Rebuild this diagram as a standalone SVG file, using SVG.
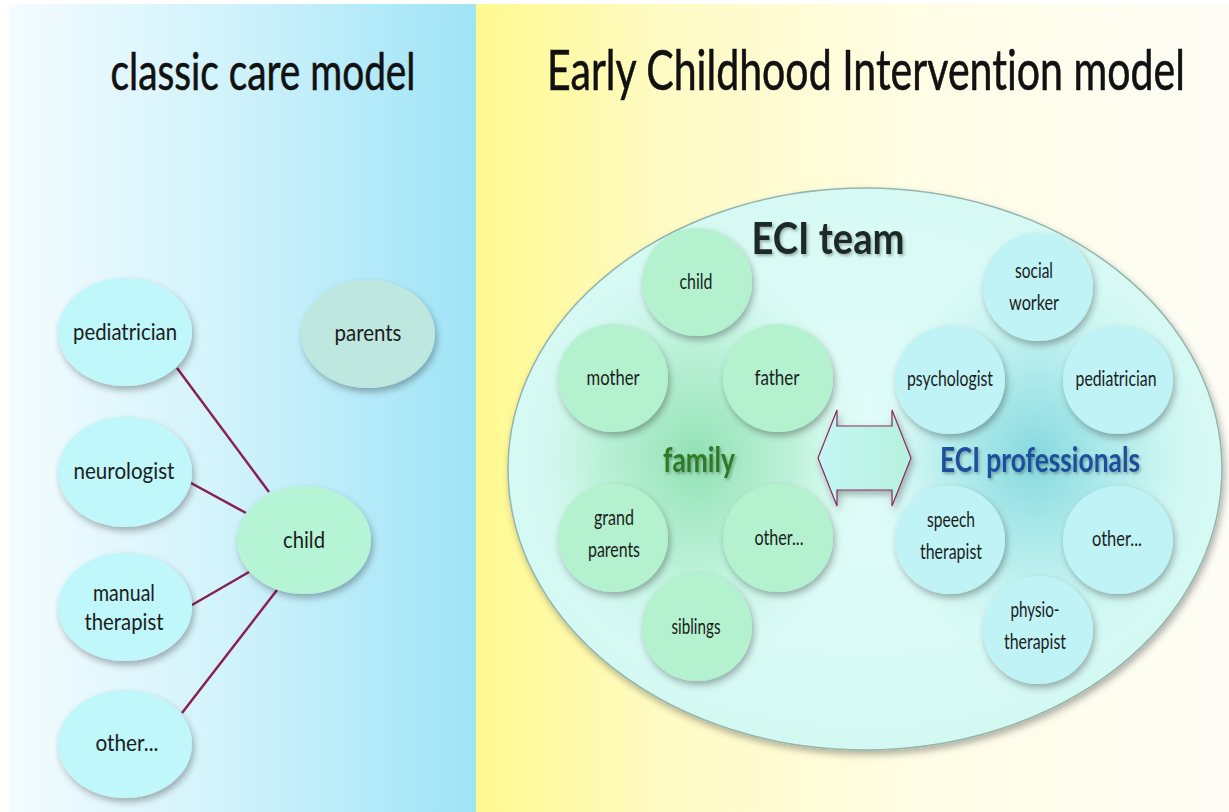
<svg xmlns="http://www.w3.org/2000/svg" width="1229" height="812" viewBox="0 0 1229 812">
<defs>
<linearGradient id="bgL" x1="0" y1="0" x2="1" y2="0">
<stop offset="0" stop-color="#f4fcff"/>
<stop offset="0.45" stop-color="#d2f3fb"/>
<stop offset="1" stop-color="#9fe4f7"/>
</linearGradient>
<linearGradient id="bgR" x1="0" y1="0" x2="1" y2="0">
<stop offset="0" stop-color="#fff98f"/>
<stop offset="0.25" stop-color="#fffbc4"/>
<stop offset="0.6" stop-color="#fffde6"/>
<stop offset="1" stop-color="#fdfdf6"/>
</linearGradient>
<radialGradient id="team" cx="0.5" cy="0.45" r="0.6">
<stop offset="0" stop-color="#e4fdf9"/>
<stop offset="1" stop-color="#d2f8f2"/>
</radialGradient>
<radialGradient id="glowG" cx="0.5" cy="0.5" r="0.5">
<stop offset="0" stop-color="#8edfb0" stop-opacity="0.95"/>
<stop offset="0.55" stop-color="#a4eac4" stop-opacity="0.6"/>
<stop offset="1" stop-color="#c8f6e6" stop-opacity="0"/>
</radialGradient>
<radialGradient id="glowB" cx="0.5" cy="0.5" r="0.5">
<stop offset="0" stop-color="#80d6dc" stop-opacity="0.95"/>
<stop offset="0.55" stop-color="#a2e6e8" stop-opacity="0.6"/>
<stop offset="1" stop-color="#c8f6f2" stop-opacity="0"/>
</radialGradient>
<linearGradient id="arrowFill" x1="0" y1="0" x2="1" y2="0">
<stop offset="0" stop-color="#c4f6f6"/>
<stop offset="1" stop-color="#b6f2dc"/>
</linearGradient>
<filter id="sh" x="-30%" y="-30%" width="160%" height="160%">
<feDropShadow dx="2" dy="4" stdDeviation="3.5" flood-color="#000" flood-opacity="0.3"/>
</filter>
<filter id="tsh" x="-10%" y="-30%" width="120%" height="160%">
<feDropShadow dx="1.5" dy="2" stdDeviation="1.5" flood-color="#000" flood-opacity="0.3"/>
</filter>
</defs>
<style>
text{font-variant-ligatures:none;font-feature-settings:"liga" 0,"clig" 0}
.title{font-family:"Lato","Liberation Sans",sans-serif;fill:#111;stroke:#111;stroke-width:0.6;text-anchor:middle}
.lbl{font-family:"Lato","Liberation Sans",sans-serif;font-size:24px;fill:#1c1c1c;text-anchor:middle}
.rl{font-family:"Lato","Liberation Sans",sans-serif;font-size:21px;fill:#1c1c1c;text-anchor:middle}
.big{font-family:"Lato","Liberation Sans",sans-serif;font-weight:bold;text-anchor:middle;filter:url(#tsh)}
.blue{fill:#c0f7fa;filter:url(#sh)}
.green{fill:#b5f5d6;filter:url(#sh)}
.grey{fill:#bde7df;filter:url(#sh)}
.rg{fill:#b3f1cf;filter:url(#sh)}
.rb{fill:#bff3f6;filter:url(#sh)}
.conn{stroke:#8a1f55;stroke-width:2.5;fill:none}
</style>
<rect x="0" y="0" width="1229" height="812" fill="#ffffff"/>
<rect x="9" y="4" width="467" height="808" fill="url(#bgL)"/>
<rect x="476" y="4" width="753" height="808" fill="url(#bgR)"/>
<text class="title" x="263" y="90" font-size="52" textLength="305" lengthAdjust="spacingAndGlyphs">classic care model</text>
<text class="title" x="866" y="90" font-size="57" textLength="638" lengthAdjust="spacingAndGlyphs">Early Childhood Intervention model</text>
<g id="connectors">
<line class="conn" x1="177" y1="368" x2="269" y2="492"/>
<line class="conn" x1="191" y1="483" x2="246" y2="513"/>
<line class="conn" x1="192" y1="605" x2="249" y2="572"/>
<line class="conn" x1="182" y1="713" x2="277" y2="590"/>
</g>
<g id="node-pediatrician"><ellipse class="blue" cx="125" cy="332" rx="67" ry="54"/><text class="lbl" x="125" y="340" textLength="104" lengthAdjust="spacingAndGlyphs">pediatrician</text></g>
<g id="node-parents"><ellipse class="grey" cx="368" cy="334" rx="67" ry="54"/><text class="lbl" x="368" y="341" textLength="67" lengthAdjust="spacingAndGlyphs">parents</text></g>
<g id="node-neurologist"><ellipse class="blue" cx="125" cy="472" rx="67" ry="55"/><text class="lbl" x="124" y="479" textLength="101" lengthAdjust="spacingAndGlyphs">neurologist</text></g>
<g id="node-child"><ellipse class="green" cx="304" cy="540" rx="67" ry="54"/><text class="lbl" x="304" y="548" textLength="42" lengthAdjust="spacingAndGlyphs">child</text></g>
<g id="node-manual-therapist"><ellipse class="blue" cx="125" cy="607" rx="67" ry="54"/><text class="lbl" x="124" y="601" textLength="62" lengthAdjust="spacingAndGlyphs">manual</text><text class="lbl" x="124" y="630" textLength="79" lengthAdjust="spacingAndGlyphs">therapist</text></g>
<g id="node-other-left"><ellipse class="blue" cx="125" cy="744" rx="67" ry="54"/><text class="lbl" x="127" y="751" textLength="63" lengthAdjust="spacingAndGlyphs">other...</text></g>
<g id="eci-team">
<ellipse cx="865" cy="469" rx="357" ry="281" fill="url(#team)" stroke="#93b5ad" stroke-width="1.5" filter="url(#sh)"/>
<ellipse cx="697" cy="458" rx="175" ry="200" fill="url(#glowG)"/>
<ellipse cx="1035" cy="458" rx="175" ry="200" fill="url(#glowB)"/>
<text class="big" x="828" y="254" font-size="44" fill="#1e2a26" textLength="153" lengthAdjust="spacingAndGlyphs">ECI team</text>
</g>
<g id="node-r-child"><ellipse class="rg" cx="697" cy="282" rx="55" ry="54"/><text class="rl" x="696" y="289" textLength="33" lengthAdjust="spacingAndGlyphs">child</text></g>
<g id="node-mother"><ellipse class="rg" cx="613" cy="378" rx="55" ry="54"/><text class="rl" x="613" y="385" textLength="53" lengthAdjust="spacingAndGlyphs">mother</text></g>
<g id="node-father"><ellipse class="rg" cx="778" cy="378" rx="55" ry="54"/><text class="rl" x="777" y="385" textLength="45" lengthAdjust="spacingAndGlyphs">father</text></g>
<g id="node-grandparents"><ellipse class="rg" cx="613" cy="538" rx="55" ry="54"/><text class="rl" x="614" y="525" textLength="40" lengthAdjust="spacingAndGlyphs">grand</text><text class="rl" x="614" y="557" textLength="52" lengthAdjust="spacingAndGlyphs">parents</text></g>
<g id="node-other-family"><ellipse class="rg" cx="778" cy="538" rx="55" ry="54"/><text class="rl" x="779" y="545" textLength="49" lengthAdjust="spacingAndGlyphs">other...</text></g>
<g id="node-siblings"><ellipse class="rg" cx="697" cy="627" rx="55" ry="54"/><text class="rl" x="696" y="634" textLength="49" lengthAdjust="spacingAndGlyphs">siblings</text></g>
<g id="label-family"><text class="big" x="699" y="472" font-size="34" fill="#2f7a25" textLength="72" lengthAdjust="spacingAndGlyphs">family</text></g>
<g id="node-social-worker"><ellipse class="rb" cx="1038" cy="287" rx="55" ry="54"/><text class="rl" x="1034" y="278" textLength="38" lengthAdjust="spacingAndGlyphs">social</text><text class="rl" x="1034" y="310" textLength="50" lengthAdjust="spacingAndGlyphs">worker</text></g>
<g id="node-psychologist"><ellipse class="rb" cx="950" cy="380" rx="55" ry="54"/><text class="rl" x="950" y="386" textLength="86" lengthAdjust="spacingAndGlyphs">psychologist</text></g>
<g id="node-r-pediatrician"><ellipse class="rb" cx="1118" cy="380" rx="55" ry="54"/><text class="rl" x="1116" y="386" textLength="81" lengthAdjust="spacingAndGlyphs">pediatrician</text></g>
<g id="node-speech-therapist"><ellipse class="rb" cx="950" cy="540" rx="55" ry="54"/><text class="rl" x="951" y="527" textLength="48" lengthAdjust="spacingAndGlyphs">speech</text><text class="rl" x="951" y="559" textLength="62" lengthAdjust="spacingAndGlyphs">therapist</text></g>
<g id="node-other-prof"><ellipse class="rb" cx="1118" cy="540" rx="55" ry="54"/><text class="rl" x="1117" y="546" textLength="50" lengthAdjust="spacingAndGlyphs">other...</text></g>
<g id="node-physiotherapist"><ellipse class="rb" cx="1038" cy="630" rx="55" ry="54"/><text class="rl" x="1035" y="617" textLength="49" lengthAdjust="spacingAndGlyphs">physio-</text><text class="rl" x="1035" y="649" textLength="62" lengthAdjust="spacingAndGlyphs">therapist</text></g>
<g id="label-eci-professionals"><text class="big" x="1040" y="472" font-size="34" fill="#1d4f9c" textLength="200" lengthAdjust="spacingAndGlyphs">ECI professionals</text></g>
<g id="arrow">
<polygon points="818,458 837,410 837,426 892,426 892,410 911,458 892,506 892,490 837,490 837,506" fill="url(#arrowFill)" stroke="#8a2a5a" stroke-width="1.2" filter="url(#sh)"/>
</g>
</svg>
